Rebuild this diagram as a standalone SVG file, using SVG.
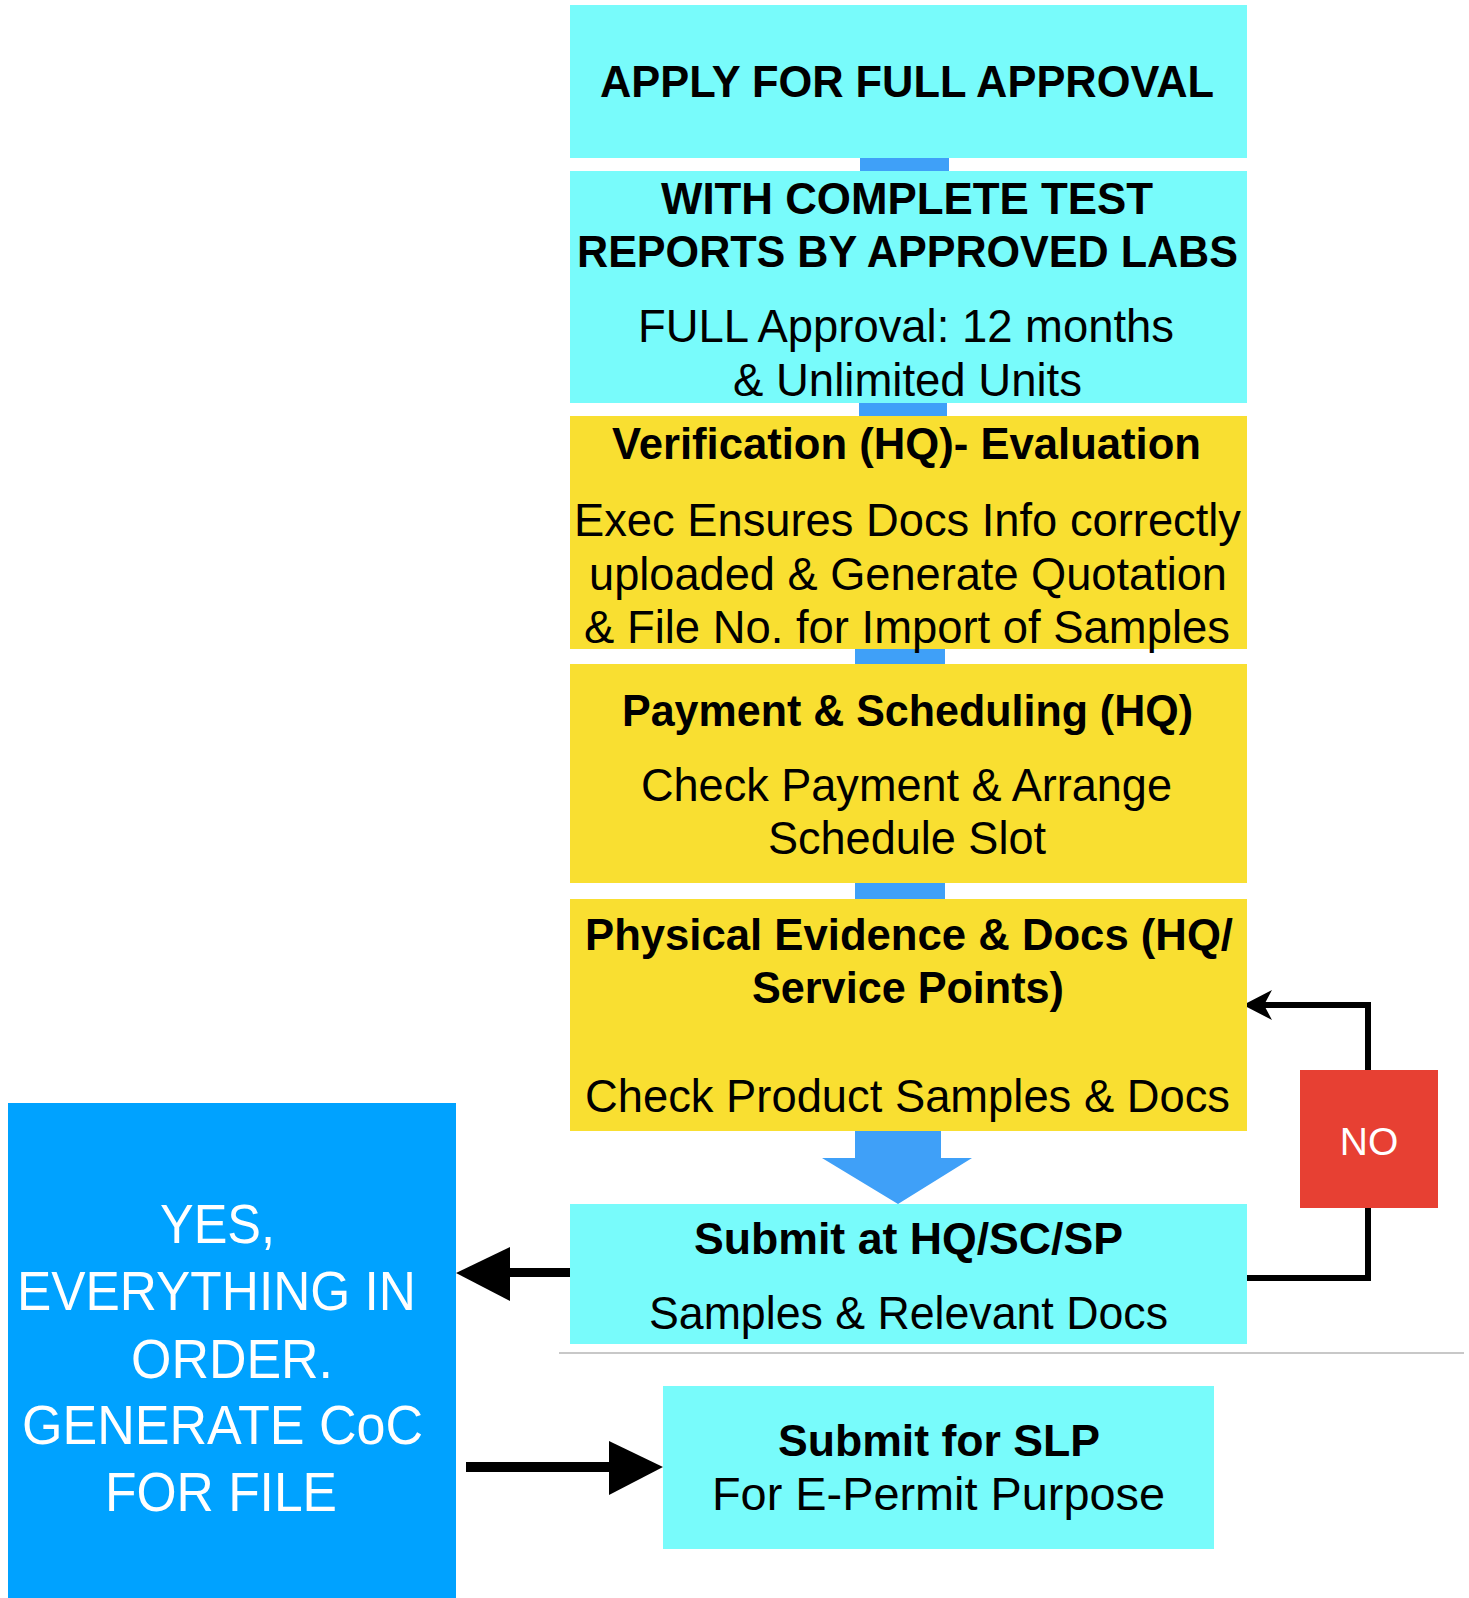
<svg xmlns="http://www.w3.org/2000/svg" width="1469" height="1598" viewBox="0 0 1469 1598">
<style>
.cy{fill:#78FBFB}
.ye{fill:#F9DF31}
.bl{fill:#3FA0F8}
.t{font-family:"Liberation Sans",Arial,sans-serif;fill:#000;text-anchor:start}
.b{font-weight:bold;font-size:45px}
.r{font-size:46px}
.w{font-family:"Liberation Sans",Arial,sans-serif;fill:#fff;font-size:55px}
</style>
<rect width="1469" height="1598" fill="#fff"/>
<g id="connectors">
<rect class="bl" x="860" y="157" width="89" height="15"/>
<rect class="bl" x="859" y="402" width="88" height="15"/>
<rect class="bl" x="855" y="648" width="90" height="17"/>
<rect class="bl" x="855" y="882" width="90" height="18"/>
<polygon class="bl" points="855,1130 941,1130 941,1158 972,1158 898,1204 822,1158 855,1158"/>
<polyline points="1247,1278 1368,1278 1368,1005 1262,1005" fill="none" stroke="#000" stroke-width="6"/>
<polygon points="1243,1005 1272,990 1264,1005 1272,1020" fill="#000"/>
<rect x="508" y="1268" width="62" height="9" fill="#000"/>
<polygon points="456,1273 510,1247 510,1301" fill="#000"/>
<rect x="466" y="1462" width="145" height="10" fill="#000"/>
<polygon points="663,1467 609,1441 609,1495" fill="#000"/>
<line x1="559" y1="1353" x2="1464" y2="1353" stroke="#C8C8C8" stroke-width="2"/>
</g>
<g id="n1">
<rect class="cy" x="570" y="5" width="677" height="153"/>
<text class="t b" x="600" y="97" textLength="614" lengthAdjust="spacingAndGlyphs">APPLY FOR FULL APPROVAL</text>
</g>
<g id="n2">
<rect class="cy" x="570" y="171" width="677" height="232"/>
<text class="t b" x="661" y="214" textLength="492" lengthAdjust="spacingAndGlyphs">WITH COMPLETE TEST</text>
<text class="t b" x="577" y="267" textLength="661" lengthAdjust="spacingAndGlyphs">REPORTS BY APPROVED LABS</text>
<text class="t r" x="638" y="342" textLength="536" lengthAdjust="spacingAndGlyphs">FULL Approval: 12 months</text>
<text class="t r" x="733" y="396" textLength="349" lengthAdjust="spacingAndGlyphs">&amp; Unlimited Units</text>
</g>
<g id="n3">
<rect class="ye" x="570" y="416" width="677" height="233"/>
<text class="t b" x="612" y="459" textLength="589" lengthAdjust="spacingAndGlyphs">Verification (HQ)- Evaluation</text>
<text class="t r" x="574" y="536" textLength="667" lengthAdjust="spacingAndGlyphs">Exec Ensures Docs Info correctly</text>
<text class="t r" x="589" y="590" textLength="638" lengthAdjust="spacingAndGlyphs">uploaded &amp; Generate Quotation</text>
<text class="t r" x="584" y="643" textLength="646" lengthAdjust="spacingAndGlyphs">&amp; File No. for Import of Samples</text>
</g>
<g id="n4">
<rect class="ye" x="570" y="664" width="677" height="219"/>
<text class="t b" x="622" y="726" textLength="571" lengthAdjust="spacingAndGlyphs">Payment &amp; Scheduling (HQ)</text>
<text class="t r" x="641" y="801" textLength="531" lengthAdjust="spacingAndGlyphs">Check Payment &amp; Arrange</text>
<text class="t r" x="768" y="854" textLength="278" lengthAdjust="spacingAndGlyphs">Schedule Slot</text>
</g>
<g id="n5">
<rect class="ye" x="570" y="899" width="677" height="232"/>
<text class="t b" x="585" y="950" textLength="648" lengthAdjust="spacingAndGlyphs">Physical Evidence &amp; Docs (HQ/</text>
<text class="t b" x="752" y="1003" textLength="312" lengthAdjust="spacingAndGlyphs">Service Points)</text>
<text class="t r" x="585" y="1112" textLength="645" lengthAdjust="spacingAndGlyphs">Check Product Samples &amp; Docs</text>
</g>
<g id="n6">
<rect class="cy" x="570" y="1204" width="677" height="140"/>
<text class="t b" x="694" y="1254" textLength="429" lengthAdjust="spacingAndGlyphs">Submit at HQ/SC/SP</text>
<text class="t r" x="649" y="1329" textLength="519" lengthAdjust="spacingAndGlyphs">Samples &amp; Relevant Docs</text>
</g>
<g id="no">
<rect x="1300" y="1070" width="138" height="138" fill="#E74033"/>
<text x="1369" y="1155" font-family="Liberation Sans,Arial,sans-serif" font-size="39" fill="#fff" text-anchor="middle">NO</text>
</g>
<g id="yes">
<rect x="8" y="1103" width="448" height="495" fill="#00A2FF"/>
<text class="w" x="160" y="1243" textLength="115" lengthAdjust="spacingAndGlyphs">YES,</text>
<text class="w" x="17" y="1310" textLength="399" lengthAdjust="spacingAndGlyphs">EVERYTHING IN</text>
<text class="w" x="131" y="1378" textLength="202" lengthAdjust="spacingAndGlyphs">ORDER.</text>
<text class="w" x="22" y="1444" textLength="401" lengthAdjust="spacingAndGlyphs">GENERATE CoC</text>
<text class="w" x="105" y="1511" textLength="232" lengthAdjust="spacingAndGlyphs">FOR FILE</text>
</g>
<g id="slp">
<rect class="cy" x="663" y="1386" width="551" height="163"/>
<text class="t b" x="778" y="1456" textLength="322" lengthAdjust="spacingAndGlyphs">Submit for SLP</text>
<text class="t r" x="712" y="1510" textLength="453" lengthAdjust="spacingAndGlyphs">For E-Permit Purpose</text>
</g>
</svg>
